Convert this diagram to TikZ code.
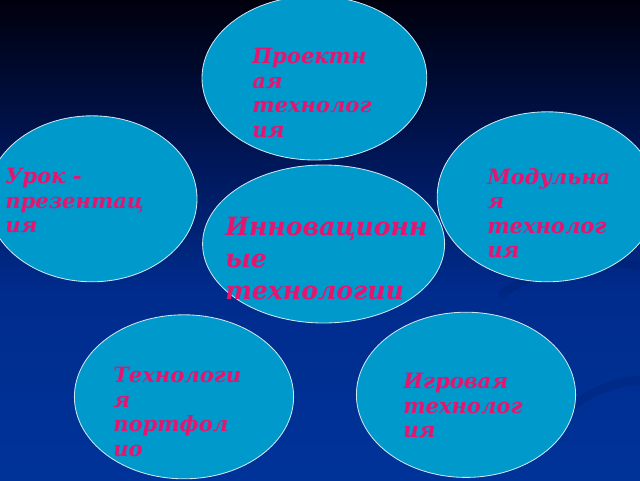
\documentclass[tikz,border=0pt]{standalone}
\usepackage{fontspec}
\setmainfont{DejaVu Serif}
\usetikzlibrary{shapes.geometric}
\definecolor{bubblefill}{RGB}{0,153,204}
\definecolor{bubbleline}{RGB}{205,230,240}
\definecolor{labelpink}{RGB}{230,20,110}
\definecolor{swirlblue}{RGB}{0,28,105}
\pgfdeclareverticalshading{slidebg}{100bp}{rgb(0bp)=(0,0.2,0.6); rgb(25bp)=(0,0.2,0.6); rgb(45bp)=(0,0.17,0.55); rgb(60bp)=(0,0.08,0.32); rgb(75bp)=(0,0,0.05); rgb(100bp)=(0,0,0.05)}
\tikzset{
  techbubble/.style={ellipse, draw=bubbleline, line width=0.6pt, fill=bubblefill, inner sep=0pt},
  techlabel/.style={anchor=north west, inner sep=0pt, align=left, text=labelpink,
    font=\fontsize{15}{17.4}\selectfont\bfseries\itshape},
  hublabel/.style={techlabel, font=\fontsize{17.9}{22.8}\selectfont\bfseries\itshape}
}

\begin{document}
\begin{tikzpicture}
\useasboundingbox (0,0) rectangle (16,12);
\clip (0,0) rectangle (16,12);
% slide background
	\shade[shading=slidebg] (0,0) rectangle (16,12);
	\draw[swirlblue, line width=6pt, opacity=0.3] (12.5,4.6) .. controls (13.5,5.4) and (15,5.6) .. (16.2,5.3);
	\draw[swirlblue, line width=6pt, opacity=0.25] (14,1.6) .. controls (14.8,2.3) and (15.5,2.5) .. (16.2,2.5);

% draw ellipse nodes
	\node[techbubble,
		minimum width=5.62cm,
		minimum height=4.1cm] (project) at (7.86,10.05) {};
	\node[techbubble,
		minimum width=5.25cm,
		minimum height=4.15cm] (lesson) at (2.30,7.03) {};
	\node[techbubble,
		minimum width=5.5cm,
		minimum height=4.25cm] (module) at (13.68,7.08) {};
	\node[techbubble,
		minimum width=6.05cm,
		minimum height=3.95cm] (innov) at (8.09,5.9) {};
	\node[techbubble,
		minimum width=5.48cm,
		minimum height=4.1cm] (folio) at (4.6,2.08) {};
	\node[techbubble,
		minimum width=5.48cm,
		minimum height=4.13cm] (game) at (11.65,2.13) {};

% labels
	\node[techlabel] (projecttext) at (6.3,10.8) {Проектн\\ая\\технолог\\ия};
	\node[techlabel] (lessontext) at (0.125,7.8) {Урок -\\презентац\\ия};
	\node[techlabel] (moduletext) at (12.175,7.8) {Модульна\\я\\технолог\\ия};
	\node[hublabel] (innovtext) at (5.625,6.575) {Инновационн\\ые\\технологии};
	\node[techlabel] (foliotext) at (2.825,2.825) {Технологи\\я\\портфол\\ио};
	\node[techlabel] (gametext) at (10.075,2.675) {Игровая\\технолог\\ия};
\end{tikzpicture}
\end{document}
